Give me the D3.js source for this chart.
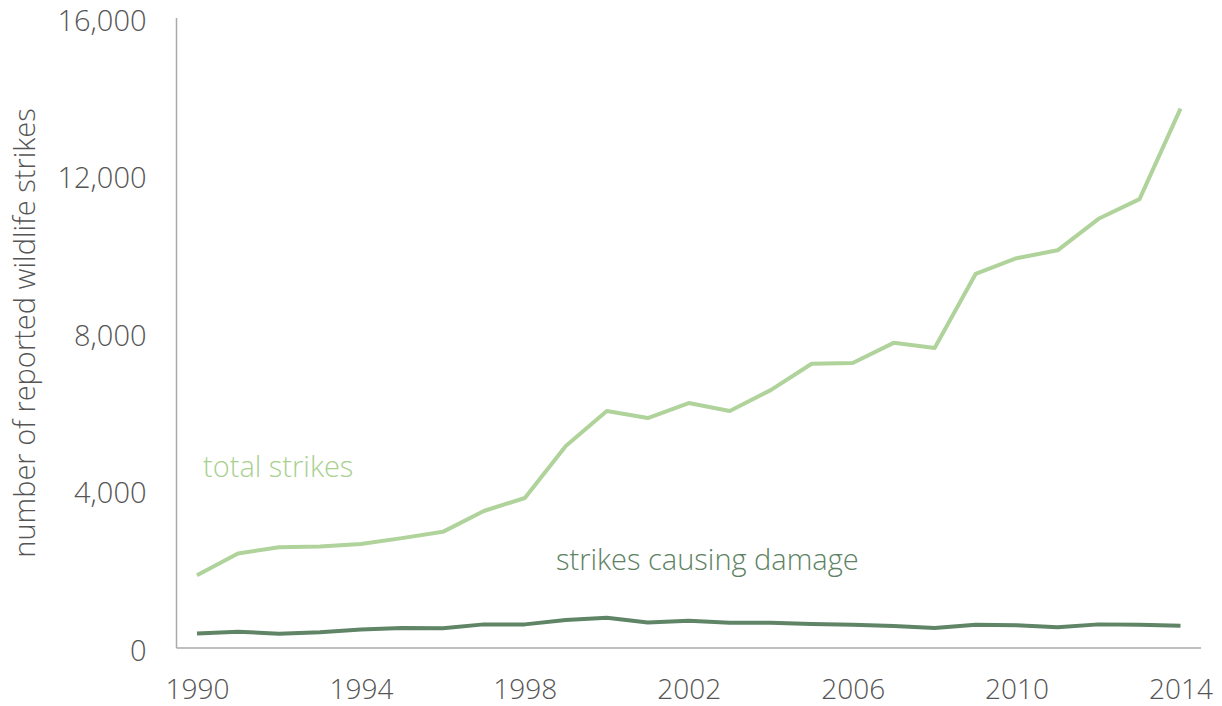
<!DOCTYPE html>
<html>
<head>
<meta charset="utf-8">
<script src="https://cdn.jsdelivr.net/npm/d3@7"></script>
<style>
  html, body { margin: 0; padding: 0; background: #fff; }
  svg { display: block; }
  text { font-family: "Open Sans", Lato, sans-serif; font-weight: 300; }
</style>
</head>
<body>
<svg id="chart" width="1222" height="706"></svg>
<script>
const years = d3.range(1990, 2015);
const totalStrikes = [1850, 2400, 2560, 2580, 2640, 2790, 2950, 3480, 3810, 5130, 6020, 5840, 6220, 6020, 6550, 7220, 7240, 7750, 7620, 9500, 9900, 10100, 10900, 11400, 13700];
const damagingStrikes = [370, 415, 365, 400, 470, 510, 500, 600, 600, 710, 770, 650, 690, 640, 640, 610, 590, 560, 510, 590, 580, 530, 600, 590, 565];
const yTicks = [0, 4000, 8000, 12000, 16000];
const xTicks = [1990, 1994, 1998, 2002, 2006, 2010, 2014];
const yLabel = "number of reported wildlife strikes";
const seriesLabels = ["total strikes", "strikes causing damage"];

const FONT = "'Open Sans', Lato, sans-serif";
const svg = d3.select("#chart");
const x = d3.scaleLinear().domain([1989.5, 2014.5]).range([176.5, 1201]);
const y = d3.scaleLinear().domain([0, 16000]).range([648, 18]);

const gy = svg.append("g").attr("transform", "translate(176.5,0)")
  .call(d3.axisLeft(y).tickValues(yTicks).tickSize(0).tickPadding(30).tickFormat(d3.format(",")));
gy.select(".domain").attr("stroke", "#aaa").attr("stroke-width", 1.5).attr("d", `M0,${y(16000)}V${y(0)}`);
gy.selectAll("text").attr("font-size", 29).attr("fill", "#555").attr("dy", "0.43em")
  .style("font-family", FONT).style("font-weight", 300);

const gx = svg.append("g").attr("transform", `translate(0,${y(0)})`)
  .call(d3.axisBottom(x).tickValues(xTicks).tickSize(0).tickPadding(31).tickFormat(d3.format("d")));
gx.select(".domain").attr("stroke", "#aaa").attr("stroke-width", 1.5).attr("d", `M176.5,0H1201`);
gx.selectAll("text").attr("font-size", 28).attr("fill", "#555").attr("dy", "0.71em")
  .style("font-family", FONT).style("font-weight", 300);

const line = d3.line().x((d, i) => x(years[i])).y(d => y(d));

svg.append("path").datum(totalStrikes).attr("d", line)
  .attr("fill", "none").attr("stroke", "#afd39b").attr("stroke-width", 4).attr("stroke-linejoin", "round");
svg.append("path").datum(damagingStrikes).attr("d", line)
  .attr("fill", "none").attr("stroke", "#5f8566").attr("stroke-width", 4).attr("stroke-linejoin", "round");

svg.append("text").attr("x", 203).attr("y", 477).attr("font-size", 29).attr("fill", "#a9d090").text(seriesLabels[0]);
svg.append("text").attr("x", 556).attr("y", 570).attr("font-size", 29).attr("fill", "#5e8263").text(seriesLabels[1]);

svg.append("text").attr("transform", "translate(35,333) rotate(-90)").attr("text-anchor", "middle")
  .attr("font-size", 29).attr("fill", "#555").text(yLabel);
</script>
</body>
</html>
